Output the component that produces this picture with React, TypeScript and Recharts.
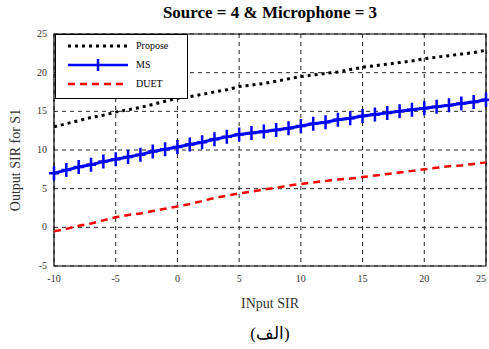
import React from 'react';
import { LineChart, Line, XAxis, YAxis, CartesianGrid, ReferenceArea, Label } from 'recharts';

const inputSir = [-10, -9, -8, -7, -6, -5, -4, -3, -2, -1, 0, 1, 2, 3, 4, 5, 6, 7, 8, 9, 10, 11, 12, 13, 14, 15, 16, 17, 18, 19, 20, 21, 22, 23, 24, 25];
const propose = [13.0, 13.4, 13.8, 14.2, 14.5, 14.9, 15.2, 15.5, 15.9, 16.3, 16.7, 16.9, 17.2, 17.5, 17.8, 18.2, 18.4, 18.6, 18.9, 19.2, 19.5, 19.7, 19.9, 20.1, 20.4, 20.7, 20.9, 21.1, 21.3, 21.5, 21.8, 22.0, 22.2, 22.4, 22.6, 22.9];
const ms = [7.0, 7.4, 7.8, 8.1, 8.5, 8.8, 9.1, 9.4, 9.8, 10.1, 10.4, 10.7, 11.0, 11.4, 11.7, 12.0, 12.2, 12.4, 12.6, 12.8, 13.1, 13.4, 13.6, 13.9, 14.1, 14.4, 14.6, 14.8, 15.0, 15.2, 15.4, 15.6, 15.8, 16.0, 16.2, 16.5];
const duet = [-0.5, -0.2, 0.2, 0.5, 0.9, 1.3, 1.6, 1.8, 2.1, 2.4, 2.7, 3.0, 3.4, 3.8, 4.1, 4.4, 4.6, 4.9, 5.1, 5.4, 5.6, 5.8, 6.0, 6.2, 6.3, 6.5, 6.7, 6.9, 7.1, 7.3, 7.5, 7.7, 7.9, 8.0, 8.2, 8.4];
const xTicks = [-10, -5, 0, 5, 10, 15, 20, 25];
const yTicks = [-5, 0, 5, 10, 15, 20, 25];

const data = inputSir.map((x, i) => ({ x, propose: propose[i], ms: ms[i], duet: duet[i] }));

const serif = '"Liberation Serif", "DejaVu Serif", serif';

// "+" marker for the MS series
const PlusDot = (props: any) => {
  const { cx, cy } = props;
  if (cx == null || cy == null) return null;
  return (
    <path
      d={`M${cx - 5},${cy} L${cx + 5},${cy} M${cx},${cy - 7} L${cx},${cy + 7}`}
      stroke="#0000ff"
      strokeWidth={2.5}
      fill="none"
    />
  );
};

const XTick = (props: any) => {
  const { x, y, payload } = props;
  return (
    <text x={x} y={y + 8} textAnchor="middle" fontSize={10} fontFamily={serif} fill="#333">
      {payload.value}
    </text>
  );
};

const YTick = (props: any) => {
  const { x, y, payload } = props;
  return (
    <text x={x + 1} y={y + 3} textAnchor="end" fontSize={10} fontFamily={serif} fill="#333">
      {payload.value}
    </text>
  );
};

const LegendBox = () => (
  <svg width={133} height={65} style={{ display: 'block' }}>
    <rect x={0.5} y={0.5} width={132} height={64} fill="#fff" stroke="#000" strokeWidth={1} />
    <line x1={13} y1={12} x2={73} y2={12} stroke="#000" strokeWidth={3} strokeDasharray="3 4" />
    <text x={81} y={15} fontSize={10} fontFamily={serif} fill="#000">Propose</text>
    <line x1={13} y1={31} x2={73} y2={31} stroke="#0000ff" strokeWidth={2.5} />
    <path d="M43,25 L43,37" stroke="#0000ff" strokeWidth={2.5} />
    <text x={81} y={34} fontSize={10} fontFamily={serif} fill="#000">MS</text>
    <line x1={13} y1={50} x2={73} y2={50} stroke="#ff0000" strokeWidth={2.5} strokeDasharray="7 5" />
    <text x={81} y={53} fontSize={10} fontFamily={serif} fill="#000">DUET</text>
  </svg>
);

export default function App() {
  return (
    <div style={{ position: 'absolute', left: 0, top: 0, width: 489, height: 349, background: '#fff' }}>
      <div
        style={{
          position: 'absolute', left: 54, width: 432, top: 3, textAlign: 'center',
          fontFamily: serif, fontWeight: 'bold', fontSize: 17, color: '#000',
        }}
      >
        Source = 4 &amp; Microphone = 3
      </div>
      <LineChart width={489} height={349} data={data} margin={{ top: 34, right: 3, bottom: 53, left: 0 }}>
        <CartesianGrid stroke="#222" strokeDasharray="4 4" strokeWidth={1} />
        <XAxis
          dataKey="x"
          type="number"
          domain={[-10, 25]}
          ticks={xTicks}
          tickLine={false}
          axisLine={false}
          height={30}
          tick={<XTick />}
        >
          <Label
            content={() => (
              <text x={270} y={308} textAnchor="middle" fontSize={14} fontFamily={serif} fill="#333">INput SIR</text>
            )}
          />
        </XAxis>
        <YAxis
          type="number"
          domain={[-5, 25]}
          ticks={yTicks}
          tickLine={false}
          axisLine={false}
          width={54}
          tick={<YTick />}
        >
          <Label
            content={() => (
              <text x={20} y={160} transform="rotate(-90 20 160)" textAnchor="middle" fontSize={14} fontFamily={serif} fill="#333">
                Output SIR for S1
              </text>
            )}
          />
        </YAxis>
        <ReferenceArea x1={-10} x2={25} y1={-5} y2={25} fill="none" stroke="#000" strokeWidth={1.2} ifOverflow="visible" />
        <Line dataKey="propose" stroke="#000" strokeWidth={3} strokeDasharray="3 4" dot={false} isAnimationActive={false} />
        <Line dataKey="ms" stroke="#0000ff" strokeWidth={3} dot={<PlusDot />} isAnimationActive={false} />
        <Line dataKey="duet" stroke="#ff0000" strokeWidth={2.5} strokeDasharray="7 5" dot={false} isAnimationActive={false} />
      </LineChart>
      <div style={{ position: 'absolute', left: 55, top: 34 }}>
        <LegendBox />
      </div>
      <div
        style={{
          position: 'absolute', left: 54, width: 432, top: 323, textAlign: 'center',
          fontFamily: serif, fontSize: 17, color: '#000',
        }}
      >
        (الف)
      </div>
    </div>
  );
}
